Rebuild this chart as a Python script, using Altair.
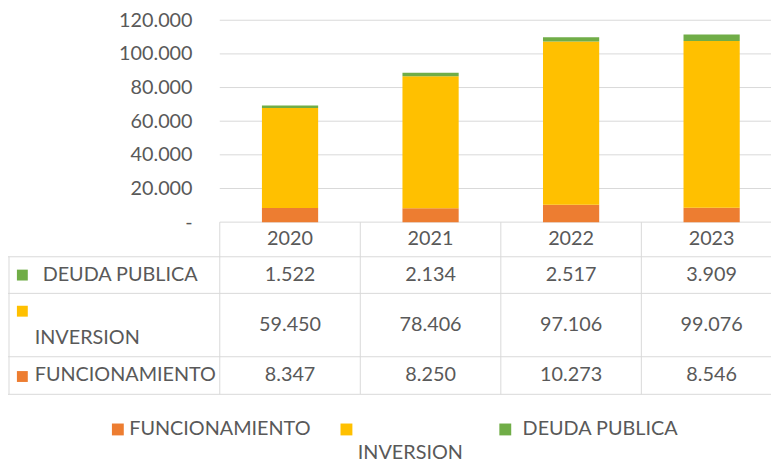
import altair as alt
import pandas as pd

# ---------------- data ----------------
years = ["2020", "2021", "2022", "2023"]
series = ["FUNCIONAMIENTO", "INVERSION", "DEUDA PUBLICA"]
funcionamiento = [8347, 8250, 10273, 8546]
inversion = [59450, 78406, 97106, 99076]
deuda_publica = [1522, 2134, 2517, 3909]
y_ticks = [0, 20000, 40000, 60000, 80000, 100000, 120000]
table_rows = ["DEUDA PUBLICA", "INVERSION", "FUNCIONAMIENTO"]  # top to bottom

# ---------------- styles / layout ----------------
colors = ["#ED7D31", "#FFC000", "#70AD47"]
FONT = "Lato"
FS = 20
TXT = "#595959"
LINE = "#d9d9d9"
W, H = 771, 454
X_BAND = [214, 782]          # pixel range of the year columns
Y_BAR = [214, 10]            # pixel range of the bar value axis
TBL_DOMAIN = [0, 174]
TBL_RANGE = [214, 388]
row_edges = [0, 35, 72, 136, 174]   # header, deuda, inversion, funcionamiento
value_y = {"DEUDA PUBLICA": 53.5, "INVERSION": 104, "FUNCIONAMIENTO": 155}
square_y = {"DEUDA PUBLICA": 53.5, "INVERSION": 90, "FUNCIONAMIENTO": 156}
label_y = {"DEUDA PUBLICA": 53.5, "INVERSION": 117.5, "FUNCIONAMIENTO": 155}
# legend layout (square centre x, text start x, text centre y) per series
legend_sq_x = [111, 342, 502.5]
legend_txt_x = [122.5, 353.5, 520]
legend_txt_y = [423.5, 447, 423.5]
LEGEND_SQ_Y = 423.5

values = {"FUNCIONAMIENTO": funcionamiento, "INVERSION": inversion, "DEUDA PUBLICA": deuda_publica}


def fmt(v):
    return f"{v:,}".replace(",", ".")


bars_df = pd.DataFrame([
    {"year": yr, "series": s, "value": values[s][j], "ord": i}
    for i, s in enumerate(series) for j, yr in enumerate(years)
])
cells_df = pd.DataFrame([
    {"year": yr, "series": s, "text": fmt(values[s][j]), "ty": value_y[s]}
    for s in table_rows for j, yr in enumerate(years)
])
labels_df = pd.DataFrame([
    {"series": s, "sy": square_y[s], "ly": label_y[s]} for s in table_rows
])

xscale = alt.Scale(domain=years, range=X_BAND, paddingInner=0, paddingOuter=0)
ybar = alt.Scale(domain=[0, 120000], range=Y_BAR, nice=False, zero=True)
tscale = alt.Scale(domain=TBL_DOMAIN, range=TBL_RANGE, nice=False, zero=False)
cscale = alt.Scale(domain=series, range=colors)

label_expr = ("datum.value == 0 ? '-\u00a0\u00a0\u00a0' : "
              "replace(format(datum.value, ','), ',', '.')")

grid = alt.Chart(pd.DataFrame({"v": y_ticks})).mark_rule(color=LINE, strokeWidth=1).encode(
    y=alt.Y("v:Q", scale=ybar, axis=None),
    x=alt.value(X_BAND[0]), x2=alt.value(W),
)

bars = alt.Chart(bars_df).mark_bar(width=alt.RelativeBandSize(0.4)).encode(
    x=alt.X("year:N", scale=xscale, axis=None),
    y=alt.Y("value:Q", stack="zero", scale=ybar, title=None,
            axis=alt.Axis(values=y_ticks, labelExpr=label_expr, grid=False, ticks=False,
                          tickSize=0, domain=False, labelPadding=0, offset=-186,
                          labelFont=FONT, labelFontSize=FS, labelColor=TXT)),
    color=alt.Color("series:N", scale=cscale, legend=None),
    order=alt.Order("ord:Q", sort="ascending"),
)

hlines = alt.Chart(pd.DataFrame({"e": row_edges[1:]})).mark_rule(color=LINE).encode(
    y=alt.Y("e:Q", scale=tscale, axis=None),
    x=alt.value(0), x2=alt.value(X_BAND[1]),
)

vlines = alt.Chart(pd.DataFrame({"year": years, "top": 0, "bottom": TBL_DOMAIN[1]})).mark_rule(color=LINE).encode(
    x=alt.X("year:N", scale=xscale, axis=None, bandPosition=0),
    y=alt.Y("top:Q", scale=tscale, axis=None),
    y2="bottom:Q",
)

left_line = alt.Chart(pd.DataFrame({"top": [row_edges[1]], "bottom": [row_edges[-1]]})).mark_rule(color=LINE).encode(
    x=alt.value(1),
    y=alt.Y("top:Q", scale=tscale, axis=None),
    y2="bottom:Q",
)

header = alt.Chart(pd.DataFrame({"year": years, "hy": (row_edges[0] + row_edges[1]) / 2})).mark_text(
    font=FONT, fontSize=FS, color=TXT, baseline="middle"
).encode(
    x=alt.X("year:N", scale=xscale, axis=None),
    y=alt.Y("hy:Q", scale=tscale, axis=None),
    text="year:N",
)

cells = alt.Chart(cells_df).mark_text(font=FONT, fontSize=FS, color=TXT, baseline="middle").encode(
    x=alt.X("year:N", scale=xscale, axis=None),
    y=alt.Y("ty:Q", scale=tscale, axis=None),
    text="text:N",
)

squares = alt.Chart(labels_df).mark_square(size=121, opacity=1, strokeWidth=0).encode(
    x=alt.value(14.5),
    y=alt.Y("sy:Q", scale=tscale, axis=None),
    fill=alt.Fill("series:N", scale=cscale, legend=None),
)

row_text_a = alt.Chart(labels_df).transform_filter(alt.datum.series == "DEUDA PUBLICA").mark_text(
    font=FONT, fontSize=FS, color=TXT, align="left", baseline="middle"
).encode(
    x=alt.value(35),
    y=alt.Y("ly:Q", scale=tscale, axis=None),
    text="series:N",
)
row_text_b = alt.Chart(labels_df).transform_filter(alt.datum.series != "DEUDA PUBLICA").mark_text(
    font=FONT, fontSize=FS, color=TXT, align="left", baseline="middle"
).encode(
    x=alt.value(27),
    y=alt.Y("ly:Q", scale=tscale, axis=None),
    text="series:N",
)

# legend (below the table), one key + label per series
legend_layers = []
legend_df = pd.DataFrame({"series": series})
for i, s in enumerate(series):
    one = alt.Chart(legend_df).transform_filter(alt.datum.series == s)
    legend_layers.append(
        one.mark_square(size=144, opacity=1, strokeWidth=0).encode(
            x=alt.value(legend_sq_x[i]), y=alt.value(LEGEND_SQ_Y),
            fill=alt.Fill("series:N", scale=cscale, legend=None),
        )
    )
    legend_layers.append(
        one.mark_text(font=FONT, fontSize=FS, color=TXT, align="left", baseline="middle").encode(
            x=alt.value(legend_txt_x[i]), y=alt.value(legend_txt_y[i]),
            text="series:N",
        )
    )

chart = alt.layer(
    grid, hlines, vlines, left_line, bars, header, cells, squares, row_text_a, row_text_b,
    *legend_layers
).resolve_scale(y="independent").properties(
    width=W, height=H, padding=0, autosize=alt.AutoSizeParams(type="none")
).configure_view(stroke=None)

chart.save("out.html", embed_options={"renderer": "svg", "actions": False})
